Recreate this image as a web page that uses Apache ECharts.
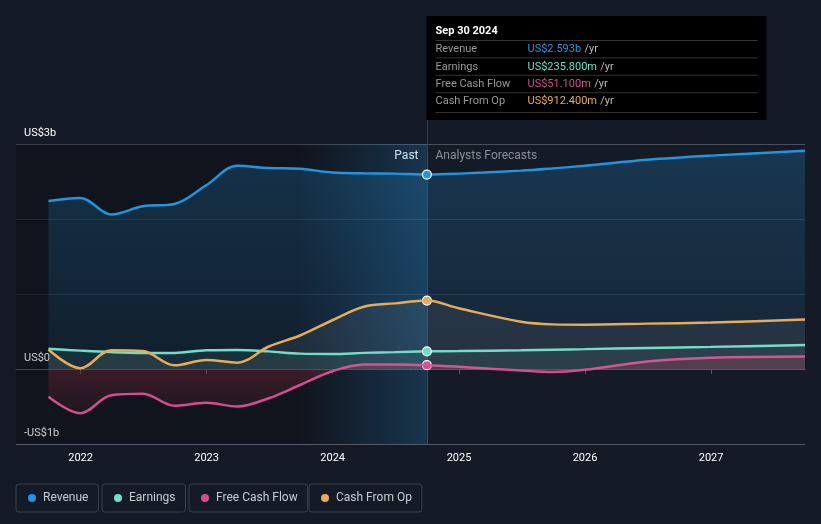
<!DOCTYPE html>
<html>
<head>
<meta charset="utf-8">
<style>
html,body{margin:0;padding:0;background:#151b26;}
#c{width:821px;height:524px;}
</style>
<script src="https://cdn.jsdelivr.net/npm/echarts@6/dist/echarts.min.js"></script>
</head>
<body>
<div id="c"></div>
<script>
// ---- data (values in US$ billions) ----
const pastDates = ['2021-09-30','2021-12-31','2022-03-31','2022-06-30','2022-09-30','2022-12-31','2023-03-31','2023-06-30','2023-09-30','2023-12-31','2024-03-31','2024-06-30','2024-09-30'];
const revenuePast  = [2.24, 2.28, 2.06, 2.17, 2.20, 2.45, 2.71, 2.68, 2.67, 2.62, 2.61, 2.605, 2.593];
const earningsPast = [0.27, 0.245, 0.225, 0.215, 0.215, 0.25, 0.255, 0.235, 0.205, 0.20, 0.215, 0.225, 0.2358];
const fcfPast      = [-0.37, -0.59, -0.35, -0.33, -0.49, -0.45, -0.50, -0.39, -0.21, -0.03, 0.06, 0.06, 0.0511];
const cfoPast      = [0.26, 0.01, 0.25, 0.24, 0.05, 0.12, 0.085, 0.30, 0.45, 0.65, 0.83, 0.875, 0.9124];

const fcDates      = ['2024-12-31','2025-06-30','2025-09-30','2025-12-31','2026-06-30','2026-12-31','2027-09-30'];
const revenueFc    = [2.605, 2.645, 2.675, 2.71, 2.79, 2.845, 2.91];
const earningsFc   = [0.24, 0.25, 0.258, 0.265, 0.28, 0.295, 0.32];
const fcfFc        = [0.03, -0.02, -0.04, -0.01, 0.10, 0.15, 0.167];
const cfoFc        = [0.81, 0.63, 0.595, 0.59, 0.605, 0.62, 0.66];

const seriesNames = ['Revenue','Earnings','Free Cash Flow','Cash From Op'];
const colors = ['#2394df','#6ce0c8','#d24e8e','#e6ac5c'];
const tooltipValues = ['US$2.593b','US$235.800m','US$51.100m','US$912.400m'];
const tooltipDate = 'Sep 30 2024';
const yTickLabels = {'-1':'-US$1b','0':'US$0','3':'US$3b'};
const axisMin = '2021-06-28', axisMax = '2027-09-30';
const pastStart = '2023-09-30', nowDate = '2024-09-30';

function join(p, pv, f, fv){ return p.map((d,i)=>[d,pv[i]]).concat(f.map((d,i)=>[d,fv[i]])); }
const allData = [
  join(pastDates, revenuePast, fcDates, revenueFc),
  join(pastDates, earningsPast, fcDates, earningsFc),
  join(pastDates, fcfPast, fcDates, fcfFc),
  join(pastDates, cfoPast, fcDates, cfoFc)
];
const nowVals = [revenuePast[12], earningsPast[12], fcfPast[12], cfoPast[12]];

const fills = [
  new echarts.graphic.LinearGradient(0,0,0,1,[{offset:0,color:'rgba(35,148,223,0.33)'},{offset:1,color:'rgba(35,148,223,0.1)'}]),
  'rgba(108,224,200,0.12)',
  new echarts.graphic.LinearGradient(0,0,0,1,[{offset:0,color:'rgba(200,50,70,0.38)'},{offset:1,color:'rgba(200,50,70,0.12)'}]),
  'rgba(200,200,200,0.12)'
];

const chart = echarts.init(document.getElementById('c'));
const font = 'Roboto, "Noto Sans", sans-serif';

const series = seriesNames.map((n,i)=>({
  name:n, type:'line', data:allData[i], smooth:0.35, symbol:'none',
  lineStyle:{color:colors[i], width:2.5}, itemStyle:{color:colors[i]},
  areaStyle:{color:fills[i], origin:0},
  z: 3 + i,
  markPoint:{symbol:'circle', symbolSize:9, silent:true, label:{show:false},
    itemStyle:{color:colors[i], borderColor:'#fff', borderWidth:1.2},
    data:[{coord:[nowDate, nowVals[i]]}]}
}));
// background regions
series.push({
  type:'line', data:[], silent:true,
  markArea:{silent:true, data:[
    [{xAxis:axisMin, itemStyle:{color:'rgba(0,0,0,0.22)'}},{xAxis:pastStart}],
    [{xAxis:pastStart, itemStyle:{color:new echarts.graphic.LinearGradient(0,0,1,0,[{offset:0,color:'rgba(0,0,0,0.2)'},{offset:1,color:'rgba(35,148,223,0.22)'}])}},{xAxis:nowDate}]
  ]}
});

const legends = seriesNames.map((n,i)=>({
  data:[n], top:484, left:[16,102,189,309][i], orient:'horizontal',
  icon:'circle', itemWidth:8, itemHeight:8, itemGap:0,
  borderColor:'#3a404b', borderWidth:1, borderRadius:3, padding:[8,10,8,12],
  textStyle:{color:'#c8ccd2', fontSize:12, fontFamily:font, padding:[0,0,0,2]},
  selectedMode:false
}));

chart.setOption({
  backgroundColor:'#151b26',
  animation:false,
  color:colors,
  grid:{left:16, right:16, top:144, bottom:80},
  legend:legends,
  xAxis:{type:'time', min:axisMin, max:axisMax,
    minInterval:365*24*3600*1000, maxInterval:366*24*3600*1000,
    axisLine:{lineStyle:{color:'#555b66'}},
    axisTick:{show:true, length:5, lineStyle:{color:'#555b66'}},
    axisLabel:{color:'#fff', fontSize:11, fontFamily:font, formatter:'{yyyy}', margin:9},
    splitLine:{show:false}},
  yAxis:{type:'value', min:-1, max:3, interval:1,
    axisLine:{show:false}, axisTick:{show:false},
    axisLabel:{inside:true, margin:8, verticalAlign:'bottom', padding:[0,0,5,0], color:'#fff', fontSize:11, fontFamily:font,
      formatter:v=>yTickLabels[String(v)]||''},
    splitLine:{show:true, lineStyle:{color:['#555b66','#ffffff','#2b3240','#2b3240','#4a505a'], width:1}}},
  series:series
});

// overlays computed from axis scale
const px = chart.convertToPixel({xAxisIndex:0, yAxisIndex:0},[nowDate, 3]);
const bottom = chart.convertToPixel({xAxisIndex:0, yAxisIndex:0},[nowDate, -1]);
const nx = Math.round(px[0])+0.5;
const boxX = nx-1, boxY=16, boxW=340, boxH=104;
const rowLabels = seriesNames;
const g = [
  {type:'line', shape:{x1:nx, y1:boxY, x2:nx, y2:bottom[1]}, style:{stroke:'#3a4250', lineWidth:1}, z:1},
  {type:'text', style:{text:'Past', x:nx-9, y:px[1]+12, align:'right', verticalAlign:'middle', fill:'#fff', font:'12px '+font}},
  {type:'text', style:{text:'Analysts Forecasts', x:nx+8, y:px[1]+12, align:'left', verticalAlign:'middle', fill:'#8a8f98', font:'12px '+font}},
  {type:'rect', shape:{x:boxX, y:boxY, width:boxW, height:boxH}, style:{fill:'#000'}, z:10},
  {type:'text', style:{text:tooltipDate, x:boxX+9, y:boxY+15, verticalAlign:'middle', fill:'#fff', font:'bold 11px '+font}, z:11}
];
for (let i=0;i<4;i++){
  const y = boxY+33.5+i*17.4;
  g.push({type:'line', shape:{x1:boxX+9, y1:y-9, x2:boxX+boxW-9, y2:y-9}, style:{stroke:'#333', lineWidth:1}, z:11});
  g.push({type:'text', style:{text:rowLabels[i], x:boxX+9, y:y, verticalAlign:'middle', fill:'#999', font:'11px '+font}, z:11});
  g.push({type:'text', style:{rich:{v:{fill:colors[i], font:'11px '+font}, u:{fill:'#bbb', font:'11px '+font}}, text:'{v|'+tooltipValues[i]+'} {u|/yr}', x:boxX+101, y:y, verticalAlign:'middle'}, z:11});
}
g.push({type:'line', shape:{x1:boxX+9, y1:boxY+96.5, x2:boxX+boxW-9, y2:boxY+96.5}, style:{stroke:'#333', lineWidth:1}, z:11});
chart.setOption({graphic:g});
</script>
</body>
</html>
